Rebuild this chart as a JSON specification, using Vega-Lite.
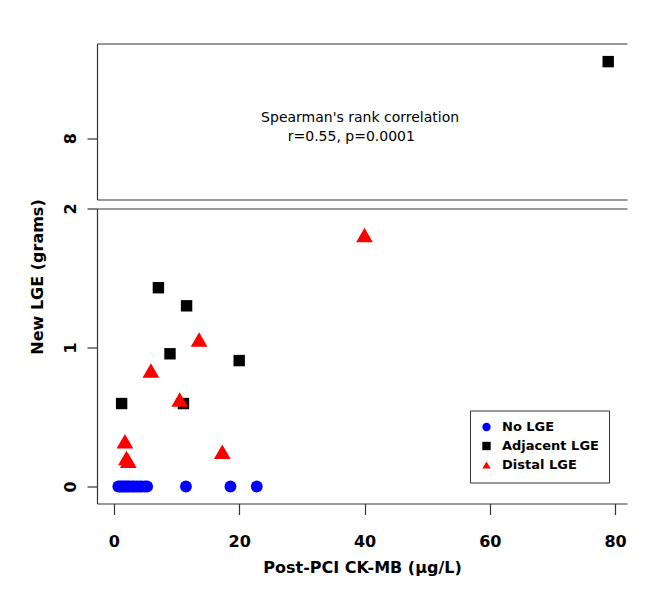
{
  "$schema": "https://vega.github.io/schema/vega-lite/v6.json",
  "padding": {"left": 29, "top": 43.5, "right": 18, "bottom": 21},
  "background": "white",
  "config": {
    "view": {"stroke": null},
    "font": "DejaVu Sans",
    "axis": {"grid": false, "domainColor": "#333", "tickColor": "#333", "labelColor": "#000", "titleColor": "#000", "labelFont": "DejaVu Sans", "titleFont": "DejaVu Sans", "domainWidth": 1.2, "tickWidth": 1.2},
    "legend": {"orient": "none", "legendX": 373, "legendY": 202, "title": null, "strokeColor": "#333", "fillColor": "white", "padding": 10, "labelFontSize": 13, "labelFontWeight": "bold", "labelFont": "DejaVu Sans", "labelColor": "#000", "symbolSize": 70, "labelOffset": 9, "rowPadding": 5, "symbolStrokeWidth": 0}
  },
  "datasets": {
    "points": [
      {"ck": 0.7, "lge": 0, "group": "No LGE"},
      {"ck": 1.0, "lge": 0, "group": "No LGE"},
      {"ck": 1.3, "lge": 0, "group": "No LGE"},
      {"ck": 1.6, "lge": 0, "group": "No LGE"},
      {"ck": 1.9, "lge": 0, "group": "No LGE"},
      {"ck": 2.2, "lge": 0, "group": "No LGE"},
      {"ck": 2.5, "lge": 0, "group": "No LGE"},
      {"ck": 2.9, "lge": 0, "group": "No LGE"},
      {"ck": 3.2, "lge": 0, "group": "No LGE"},
      {"ck": 3.6, "lge": 0, "group": "No LGE"},
      {"ck": 4.0, "lge": 0, "group": "No LGE"},
      {"ck": 4.4, "lge": 0, "group": "No LGE"},
      {"ck": 4.9, "lge": 0, "group": "No LGE"},
      {"ck": 5.3, "lge": 0, "group": "No LGE"},
      {"ck": 11.5, "lge": 0, "group": "No LGE"},
      {"ck": 18.6, "lge": 0, "group": "No LGE"},
      {"ck": 22.8, "lge": 0, "group": "No LGE"},
      {"ck": 7.1, "lge": 1.43, "group": "Adjacent LGE"},
      {"ck": 11.6, "lge": 1.30, "group": "Adjacent LGE"},
      {"ck": 8.95, "lge": 0.955, "group": "Adjacent LGE"},
      {"ck": 20.0, "lge": 0.906, "group": "Adjacent LGE"},
      {"ck": 1.23, "lge": 0.597, "group": "Adjacent LGE"},
      {"ck": 11.1, "lge": 0.597, "group": "Adjacent LGE"},
      {"ck": 78.9, "lge": 8.55, "group": "Adjacent LGE"},
      {"ck": 40.0, "lge": 1.81, "group": "Distal LGE"},
      {"ck": 13.6, "lge": 1.058, "group": "Distal LGE"},
      {"ck": 5.9, "lge": 0.835, "group": "Distal LGE"},
      {"ck": 10.5, "lge": 0.626, "group": "Distal LGE"},
      {"ck": 1.76, "lge": 0.326, "group": "Distal LGE"},
      {"ck": 2.0, "lge": 0.206, "group": "Distal LGE"},
      {"ck": 2.3, "lge": 0.185, "group": "Distal LGE"},
      {"ck": 17.3, "lge": 0.25, "group": "Distal LGE"}
    ],
    "notes": [
      {"ck": 39.3, "lge": 8.145, "label": "Spearman's rank correlation"},
      {"ck": 37.9, "lge": 8.012, "label": "r=0.55, p=0.0001"}
    ]
  },
  "vconcat": [
    {
      "width": 530,
      "height": 156,
      "layer": [
        {
          "data": {"name": "points"},
          "transform": [{"filter": "datum.lge > 5"}],
          "mark": {"type": "point", "filled": true, "opacity": 1, "size": 130},
          "encoding": {
            "x": {"field": "ck", "type": "quantitative", "scale": {"domain": [-2.7, 81.9], "nice": false, "zero": false}, "axis": {"orient": "bottom", "labels": false, "ticks": false, "title": null}},
            "y": {"field": "lge", "type": "quantitative", "scale": {"domain": [7.56, 8.68], "nice": false, "zero": false}, "axis": {"values": [8], "title": null, "tickSize": 10, "labelAngle": -90, "labelAlign": "center", "labelBaseline": "bottom", "labelPadding": 9, "labelFontSize": 16, "labelFontWeight": "bold"}},
            "color": {"field": "group", "type": "nominal", "scale": {"domain": ["No LGE", "Adjacent LGE", "Distal LGE"], "range": ["#0000ff", "#000000", "#ff0000"]}, "legend": null},
            "shape": {"field": "group", "type": "nominal", "scale": {"domain": ["No LGE", "Adjacent LGE", "Distal LGE"], "range": ["circle", "square", "triangle-up"]}, "legend": null}
          }
        },
        {
          "data": {"name": "notes"},
          "mark": {"type": "text", "fontSize": 14, "baseline": "middle", "align": "center", "color": "#000", "font": "DejaVu Sans"},
          "encoding": {
            "x": {"field": "ck", "type": "quantitative", "scale": {"domain": [-2.7, 81.9], "nice": false, "zero": false}, "axis": {"orient": "top", "labels": false, "ticks": false, "title": null}},
            "y": {"field": "lge", "type": "quantitative", "scale": {"domain": [7.56, 8.68], "nice": false, "zero": false}, "axis": null},
            "text": {"field": "label"}
          }
        }
      ],
      "resolve": {"axis": {"x": "independent", "y": "independent"}}
    },
    {
      "width": 530,
      "height": 295,
      "layer": [
        {
          "data": {"name": "points"},
          "transform": [{"filter": "datum.group == 'No LGE'"}],
          "mark": {"type": "point", "filled": true, "opacity": 1, "size": 140},
          "encoding": {
            "x": {"field": "ck", "type": "quantitative", "scale": {"domain": [-2.7, 81.9], "nice": false, "zero": false}, "axis": {"orient": "bottom", "values": [0, 20, 40, 60, 80], "tickSize": 11, "labelPadding": 19, "labelFontSize": 16, "labelFontWeight": "bold", "title": "Post-PCI CK-MB (µg/L)", "titleFontSize": 16, "titleFontWeight": "bold", "titlePadding": 10}},
            "y": {"field": "lge", "type": "quantitative", "scale": {"domain": [-0.122, 2.0], "nice": false, "zero": false}, "axis": {"values": [0, 1, 2], "tickSize": 10, "labelAngle": -90, "labelAlign": "center", "labelBaseline": "bottom", "labelPadding": 9, "labelFontSize": 16, "labelFontWeight": "bold", "title": "New LGE (grams)", "titleFontSize": 16, "titleFontWeight": "bold", "titleX": -60, "titleY": 68, "titleBaseline": "middle", "titleAngle": -90}},
            "color": {"field": "group", "type": "nominal", "scale": {"domain": ["No LGE", "Adjacent LGE", "Distal LGE"], "range": ["#0000ff", "#000000", "#ff0000"]}},
            "shape": {"field": "group", "type": "nominal", "scale": {"domain": ["No LGE", "Adjacent LGE", "Distal LGE"], "range": ["circle", "square", "triangle-up"]}}
          }
        },
        {
          "data": {"name": "points"},
          "transform": [{"filter": "datum.group == 'Adjacent LGE' && datum.lge <= 2"}],
          "mark": {"type": "point", "filled": true, "opacity": 1, "size": 130},
          "encoding": {
            "x": {"field": "ck", "type": "quantitative", "scale": {"domain": [-2.7, 81.9], "nice": false, "zero": false}, "axis": {"orient": "top", "labels": false, "ticks": false, "title": null}},
            "y": {"field": "lge", "type": "quantitative", "scale": {"domain": [-0.122, 2.0], "nice": false, "zero": false}, "axis": null},
            "color": {"field": "group", "type": "nominal", "scale": {"domain": ["No LGE", "Adjacent LGE", "Distal LGE"], "range": ["#0000ff", "#000000", "#ff0000"]}},
            "shape": {"field": "group", "type": "nominal", "scale": {"domain": ["No LGE", "Adjacent LGE", "Distal LGE"], "range": ["circle", "square", "triangle-up"]}}
          }
        },
        {
          "data": {"name": "points"},
          "transform": [{"filter": "datum.group == 'Distal LGE'"}],
          "mark": {"type": "point", "filled": true, "opacity": 1, "size": 280},
          "encoding": {
            "x": {"field": "ck", "type": "quantitative", "scale": {"domain": [-2.7, 81.9], "nice": false, "zero": false}, "axis": null},
            "y": {"field": "lge", "type": "quantitative", "scale": {"domain": [-0.122, 2.0], "nice": false, "zero": false}, "axis": null},
            "color": {"field": "group", "type": "nominal", "scale": {"domain": ["No LGE", "Adjacent LGE", "Distal LGE"], "range": ["#0000ff", "#000000", "#ff0000"]}},
            "shape": {"field": "group", "type": "nominal", "scale": {"domain": ["No LGE", "Adjacent LGE", "Distal LGE"], "range": ["circle", "square", "triangle-up"]}}
          }
        }
      ],
      "resolve": {"axis": {"x": "independent", "y": "independent"}}
    }
  ],
  "spacing": 9,
  "bounds": "flush",
  "resolve": {
    "scale": {"x": "independent", "y": "independent", "color": "independent", "shape": "independent"},
    "legend": {"color": "independent", "shape": "independent"}
  }
}
